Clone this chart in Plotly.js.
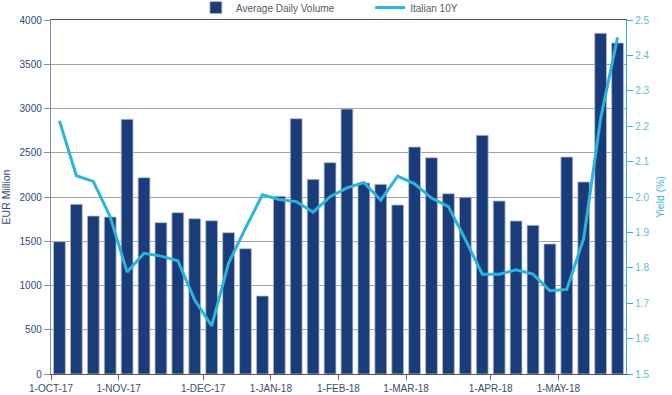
<!DOCTYPE html>
<html>
<head>
<meta charset="utf-8">
<script src="https://cdn.plot.ly/plotly-3.0.1.min.js"></script>
<style>
  html, body { margin: 0; padding: 0; background: #ffffff; }
  #chart { width: 672px; height: 395px; }
</style>
</head>
<body>
<div id="chart"></div>
<script>
// Weekly observations (34 weeks, Oct 2017 - May 2018)
const volume = [1495, 1917, 1785, 1774, 2878, 2218, 1710, 1823, 1755, 1732,
                1597, 1416, 881, 2008, 2885, 2200, 2388, 2994, 2158, 2143,
                1910, 2565, 2444, 2037, 1997, 2697, 1955, 1729, 1680, 1469,
                2452, 2170, 3850, 3740];
const yield10y = [2.215, 2.060, 2.044, 1.944, 1.788, 1.841, 1.833, 1.820, 1.709, 1.636,
                  1.813, 1.912, 2.006, 1.993, 1.987, 1.957, 2.001, 2.026, 2.041, 1.991,
                  2.059, 2.037, 1.997, 1.973, 1.880, 1.782, 1.782, 1.794, 1.782, 1.735,
                  1.739, 1.883, 2.222, 2.451];
// Month labels and the week index at which each month starts
const monthLabels = ["1-OCT-17", "1-NOV-17", "1-DEC-17", "1-JAN-18",
                     "1-FEB-18", "1-MAR-18", "1-APR-18", "1-MAY-18"];
const monthFirstWeek = [0, 4, 9, 13, 17, 21, 26, 30];

const weekIndex = volume.map((_, i) => i);
const tickPos = monthFirstWeek.map(i => i - 0.5);

const FONT = "'Liberation Sans', Arial, sans-serif";
const NAVY = "#1b3c7b";
const CYAN = "#2bb4dc";

const traces = [
  {
    type: "bar",
    name: "Average Daily Volume",
    x: weekIndex,
    y: volume,
    width: 0.7,
    marker: { color: NAVY, line: { color: "#b9c0cc", width: 0.8 } },
    legend: "legend",
    hoverinfo: "y"
  },
  {
    type: "scatter",
    mode: "lines",
    name: "Italian 10Y",
    x: weekIndex,
    y: yield10y,
    yaxis: "y2",
    line: { color: CYAN, width: 3 },
    legend: "legend2",
    hoverinfo: "y"
  }
];

const legendCommon = {
  orientation: "h",
  xanchor: "left",
  y: 1.076, yanchor: "top",
  font: { family: FONT, size: 10, color: "#555b66" },
  itemwidth: 30,
  bgcolor: "rgba(0,0,0,0)"
};

const layout = {
  width: 672,
  height: 395,
  margin: { l: 51, r: 46, t: 20, b: 21, autoexpand: false },
  paper_bgcolor: "#ffffff",
  plot_bgcolor: "#ffffff",
  font: { family: FONT, size: 10, color: "#2c4a80" },
  showlegend: true,
  legend: Object.assign({}, legendCommon, { x: 0.252 }),
  legend2: Object.assign({}, legendCommon, { x: 0.555 }),
  xaxis: {
    type: "linear",
    range: [-0.5, 33.5],
    tickmode: "array",
    tickvals: tickPos,
    ticktext: monthLabels,
    ticks: "outside",
    ticklen: 5,
    tickcolor: "#666666",
    tickfont: { family: FONT, size: 10, color: "#3d4d6a" },
    showline: true,
    linecolor: "#555555",
    linewidth: 1,
    mirror: true,
    showgrid: false,
    zeroline: false,
    fixedrange: true
  },
  yaxis: {
    range: [0, 4000],
    dtick: 500,
    tick0: 0,
    ticks: "outside",
    ticklen: 6,
    tickcolor: "#8a8f99",
    tickfont: { family: FONT, size: 10, color: "#2c4a80" },
    showline: true,
    linecolor: "#8090b0",
    linewidth: 1.2,
    showgrid: true,
    gridcolor: "#a3a3a3",
    gridwidth: 1,
    zeroline: false,
    title: { text: "EUR Million", font: { family: FONT, size: 10.5, color: "#2c4a80" }, standoff: 8 },
    fixedrange: true
  },
  yaxis2: {
    overlaying: "y",
    side: "right",
    range: [1.5, 2.5],
    dtick: 0.1,
    tick0: 1.5,
    tickformat: ".1f",
    ticks: "outside",
    ticklen: 6,
    tickcolor: CYAN,
    tickfont: { family: FONT, size: 10, color: "#5bbcd8" },
    showline: true,
    linecolor: CYAN,
    linewidth: 1.2,
    showgrid: false,
    zeroline: false,
    title: { text: "Yield (%)", font: { family: FONT, size: 10.5, color: "#3ab4da" }, standoff: 8 },
    fixedrange: true
  }
};

Plotly.newPlot("chart", traces, layout, { displayModeBar: false, staticPlot: true });
</script>
</body>
</html>
